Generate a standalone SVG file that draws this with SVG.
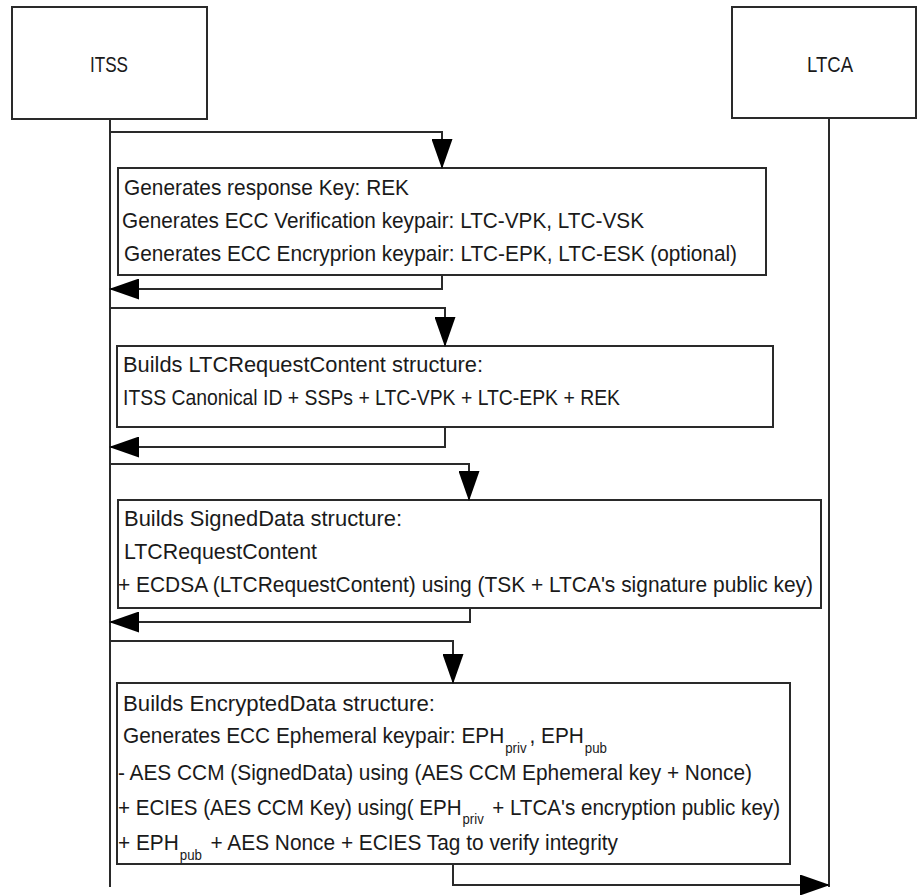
<svg xmlns="http://www.w3.org/2000/svg" width="917" height="895" viewBox="0 0 917 895">
<style>
.box{fill:#fff;stroke:#2a2a2a;stroke-width:2}
.ln{fill:none;stroke:#2a2a2a;stroke-width:2}
.t{font-family:"Liberation Sans",Arial,sans-serif;font-size:22px;fill:#1a1a1a}
.s{font-size:14px}
.h{font-family:"Liberation Sans",Arial,sans-serif;font-size:22px;fill:#1a1a1a;text-anchor:middle}
</style>
<defs>
<marker id="ah" viewBox="0 0 30 21" refX="29" refY="10.5" markerWidth="30" markerHeight="21" markerUnits="userSpaceOnUse" orient="auto">
<path d="M0,0 L30,10.5 L0,21 z" fill="#000"/>
</marker>
</defs>
<g id="itss">
<rect class="box" x="12" y="7" width="195" height="112"/>
<text class="h" x="109" y="72" textLength="38" lengthAdjust="spacingAndGlyphs">ITSS</text>
</g>
<g id="ltca">
<rect class="box" x="732" y="7" width="184" height="111"/>
<text class="h" x="830" y="72" textLength="46" lengthAdjust="spacingAndGlyphs">LTCA</text>
</g>
<g id="lifelines">
<line class="ln" x1="110" y1="119" x2="110" y2="887"/>
<line class="ln" x1="829" y1="118" x2="829" y2="887"/>
</g>
<g id="step1">
<rect class="box" x="118" y="168" width="648" height="107"/>
<text class="t" x="124" y="195" textLength="285" lengthAdjust="spacingAndGlyphs">Generates response Key: REK</text>
<text class="t" x="122" y="228" textLength="522" lengthAdjust="spacingAndGlyphs">Generates ECC Verification keypair: LTC-VPK, LTC-VSK</text>
<text class="t" x="124" y="261" textLength="613" lengthAdjust="spacingAndGlyphs">Generates ECC Encryprion keypair: LTC-EPK, LTC-ESK (optional)</text>
</g>
<g id="step2">
<rect class="box" x="117" y="346" width="656" height="81"/>
<text class="t" x="123" y="372" textLength="360" lengthAdjust="spacingAndGlyphs">Builds LTCRequestContent structure:</text>
<text class="t" x="123" y="405" textLength="497" lengthAdjust="spacingAndGlyphs">ITSS Canonical ID + SSPs + LTC-VPK + LTC-EPK + REK</text>
</g>
<g id="step3">
<rect class="box" x="118" y="500" width="703" height="108"/>
<text class="t" x="124" y="526" textLength="278" lengthAdjust="spacingAndGlyphs">Builds SignedData structure:</text>
<text class="t" x="124" y="559" textLength="193" lengthAdjust="spacingAndGlyphs">LTCRequestContent</text>
<text class="t" x="118" y="592" textLength="695" lengthAdjust="spacingAndGlyphs">+ ECDSA (LTCRequestContent) using (TSK + LTCA's signature public key)</text>
</g>
<g id="step4">
<rect class="box" x="117" y="683" width="673" height="181"/>
<text class="t" x="123" y="711" textLength="312" lengthAdjust="spacingAndGlyphs">Builds EncryptedData structure:</text>
<text class="t" x="123" y="743" textLength="484" lengthAdjust="spacingAndGlyphs">Generates ECC Ephemeral keypair: EPH<tspan class="s" dx="1" dy="10">priv</tspan><tspan dx="3" dy="-10">, EPH</tspan><tspan class="s" dx="1" dy="10">pub</tspan></text>
<text class="t" x="118" y="780" textLength="634" lengthAdjust="spacingAndGlyphs">- AES CCM (SignedData) using (AES CCM Ephemeral key + Nonce)</text>
<text class="t" x="118" y="815" textLength="662" lengthAdjust="spacingAndGlyphs">+ ECIES (AES CCM Key) using( EPH<tspan class="s" dx="1" dy="9">priv</tspan><tspan dx="3" dy="-9"> + LTCA's encryption public key)</tspan></text>
<text class="t" x="118" y="850" textLength="500" lengthAdjust="spacingAndGlyphs">+ EPH<tspan class="s" dx="1" dy="10">pub</tspan><tspan dx="3" dy="-10"> + AES Nonce + ECIES Tag to verify integrity</tspan></text>
</g>
<g id="connectors">
<path class="ln" d="M110,132 H442 V168" marker-end="url(#ah)"/>
<path class="ln" d="M442,275 V289 H110" marker-end="url(#ah)"/>
<path class="ln" d="M110,308 H445 V346" marker-end="url(#ah)"/>
<path class="ln" d="M445,427 V447 H110" marker-end="url(#ah)"/>
<path class="ln" d="M110,464 H469 V500" marker-end="url(#ah)"/>
<path class="ln" d="M470,608 V622 H110" marker-end="url(#ah)"/>
<path class="ln" d="M110,641 H453 V683" marker-end="url(#ah)"/>
<path class="ln" d="M453,864 V885 H829" marker-end="url(#ah)"/>
</g>
</svg>
